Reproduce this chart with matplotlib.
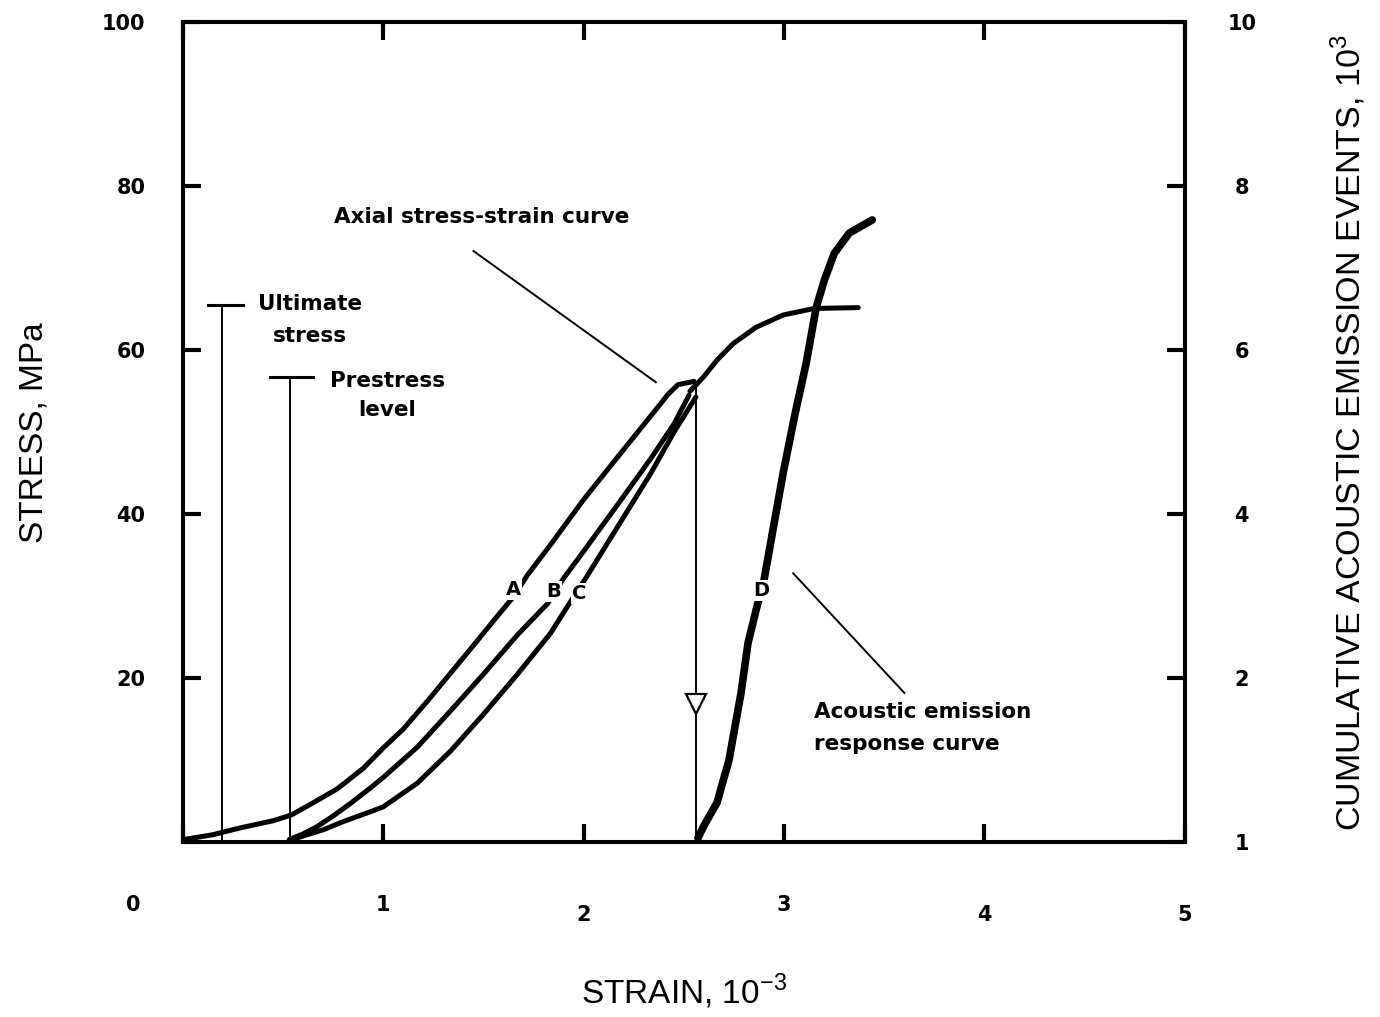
import matplotlib
matplotlib.use('Agg')
import matplotlib.pyplot as plt

plt.rcParams['font.family'] = ['DejaVu Sans']
plt.rcParams['mathtext.fontset'] = 'custom'
plt.rcParams['mathtext.rm'] = 'Liberation Sans'

# loading curves (strain 10^-3, stress MPa)
a_strain = [0.0, 0.15, 0.28, 0.45, 0.54, 0.65, 0.77, 0.9, 1.0, 1.1, 1.22, 1.335, 1.45, 1.55,
            1.645, 1.72, 1.835, 2.0, 2.17, 2.335, 2.42, 2.47, 2.55]
a_stress = [0.3, 0.9, 1.7, 2.6, 3.3, 4.8, 6.5, 9.0, 11.5, 13.8, 17.2, 20.6, 24.0, 27.0,
            29.8, 32.6, 36.3, 41.8, 47.0, 52.0, 54.6, 55.8, 56.2]

b_strain = [0.53, 0.6, 0.67, 0.75, 0.835, 0.935, 1.0, 1.17, 1.335, 1.5, 1.67, 1.82, 1.9,
            2.0, 2.17, 2.335, 2.45, 2.525]
b_stress = [0.3, 1.0, 1.9, 3.2, 4.7, 6.6, 7.9, 11.6, 16.0, 20.5, 25.3, 29.1, 32.2,
            35.5, 41.2, 46.8, 51.0, 54.5]

c_strain = [0.53, 0.62, 0.7, 0.8, 0.935, 1.0, 1.17, 1.335, 1.5, 1.67, 1.835, 1.92, 2.0,
            2.17, 2.335, 2.45, 2.56]
c_stress = [0.2, 0.9, 1.5, 2.5, 3.7, 4.3, 7.2, 11.1, 15.6, 20.5, 25.5, 28.8, 31.8,
            38.5, 45.0, 50.0, 54.3]

# final axial stress-strain curve up to failure
ax_strain = [2.53, 2.6, 2.665, 2.745, 2.86, 2.995, 3.15, 3.37]
ax_stress = [55.0, 56.8, 58.8, 60.8, 62.8, 64.3, 65.1, 65.2]

# acoustic emission response (10^3 events)
d_strain = [2.57, 2.6, 2.665, 2.725, 2.785, 2.82, 2.86, 2.9, 2.94, 2.995, 3.055, 3.11,
            3.16, 3.2, 3.25, 3.325, 3.44]
d_events = [0.05, 0.2, 0.48, 1.0, 1.82, 2.43, 2.83, 3.2, 3.75, 4.5, 5.23, 5.84,
            6.52, 6.85, 7.18, 7.43, 7.59]

ultimate_stress = 65.5
prestress = 56.7
arrow_strain = 2.56

x_ticks = [0, 1, 2, 3, 4, 5]
x_labels = ['', '1', '2', '3', '4', '5']
y_ticks = [0, 20, 40, 60, 80, 100]
y_labels = ['', '20', '40', '60', '80', '100']
r_ticks = [0, 2, 4, 6, 8, 10]
r_labels = ['1', '2', '4', '6', '8', '10']

label_font = ['Liberation Sans', 'DejaVu Sans']

fig = plt.figure(figsize=(13.8, 10.17), dpi=100)
ax = fig.add_axes([0.1326, 0.172, 0.726, 0.806])

lw = 3.6
ax.plot(a_strain, a_stress, color='black', lw=lw, solid_capstyle='round')
ax.plot(b_strain, b_stress, color='black', lw=lw, solid_capstyle='round')
ax.plot(c_strain, c_stress, color='black', lw=lw, solid_capstyle='round')
ax.plot(ax_strain, ax_stress, color='black', lw=lw, solid_capstyle='round')

# ultimate stress / prestress markers
ax.plot([0.195, 0.195], [0, ultimate_stress], color='black', lw=1.4)
ax.plot([0.125, 0.3], [ultimate_stress, ultimate_stress], color='black', lw=2.2)
ax.plot([0.535, 0.535], [0, prestress], color='black', lw=1.4)
ax.plot([0.435, 0.65], [prestress, prestress], color='black', lw=2.2)

# vertical line with open triangle
ax.plot([arrow_strain, arrow_strain], [0, 55.5], color='black', lw=1.4)
ax.plot([arrow_strain], [16.8], marker='v', markersize=15, markerfacecolor='white',
        markeredgecolor='black', markeredgewidth=1.6)

# leader lines
ax.plot([1.45, 2.36], [72.1, 56.1], color='black', lw=1.4)
ax.plot([3.045, 3.6], [32.8, 18.2], color='black', lw=1.4)

txt = dict(fontsize=15.5, fontweight='bold', color='black')
ax.text(0.635, 65.7, 'Ultimate', ha='center', va='center', **txt)
ax.text(0.635, 61.8, 'stress', ha='center', va='center', **txt)
ax.text(1.02, 56.3, 'Prestress', ha='center', va='center', **txt)
ax.text(1.02, 52.7, 'level', ha='center', va='center', **txt)
ax.text(1.49, 76.3, 'Axial stress-strain curve', ha='center', va='center', **txt)
ax.text(3.15, 15.9, 'Acoustic emission', ha='left', va='center', **txt)
ax.text(3.15, 12.0, 'response curve', ha='left', va='center', **txt)

box = dict(facecolor='white', edgecolor='none', pad=0.5)
ax.text(1.65, 30.8, 'A', ha='center', va='center', fontsize=14, fontweight='bold', bbox=box)
ax.text(1.85, 30.6, 'B', ha='center', va='center', fontsize=14, fontweight='bold', bbox=box)
ax.text(1.975, 30.3, 'C', ha='center', va='center', fontsize=14, fontweight='bold', bbox=box)

ax.set_xlim(0, 5)
ax.set_ylim(0, 100)
ax.set_xticks(x_ticks)
ax.set_xticklabels(x_labels, fontsize=15, fontweight='bold')
ax.set_yticks(y_ticks)
ax.set_yticklabels(y_labels, fontsize=15, fontweight='bold')
ax.tick_params(axis='both', direction='in', length=13, width=3, top=True, right=False)
ax.tick_params(axis='y', pad=27)
for i, t in enumerate(ax.xaxis.get_major_ticks()):
    t.set_pad(38 if i in (1, 3) else 45)
for s in ax.spines.values():
    s.set_linewidth(2.9)

ax.annotate('0', xy=(0, 0), xycoords='data', xytext=(-50, -63),
            textcoords='offset pixels', ha='center', va='center', fontsize=15,
            fontweight='bold')

ax.set_xlabel('STRAIN, 10$^{-3}$', fontsize=24, family=label_font, labelpad=34)
ax.set_ylabel('STRESS, MPa', fontsize=24, family=label_font, labelpad=38)

ax2 = ax.twinx()
ax2.set_position(ax.get_position())
ax2.plot(d_strain, d_events, color='black', lw=5.5, solid_capstyle='round')
ax2.text(2.885, 3.07, 'D', ha='center', va='center', fontsize=14, fontweight='bold', bbox=box)
ax2.set_ylim(0, 10)
ax2.set_yticks(r_ticks)
ax2.set_yticklabels(r_labels, fontsize=15, fontweight='bold', ha='center')
ax2.tick_params(axis='y', direction='in', length=13, width=3, pad=41)
ax2.set_ylabel('CUMULATIVE ACOUSTIC EMISSION EVENTS, 10$^{3}$', fontsize=24.5,
               family=label_font, labelpad=52)
for s in ax2.spines.values():
    s.set_linewidth(2.9)

plt.savefig('out.png', dpi=100)
